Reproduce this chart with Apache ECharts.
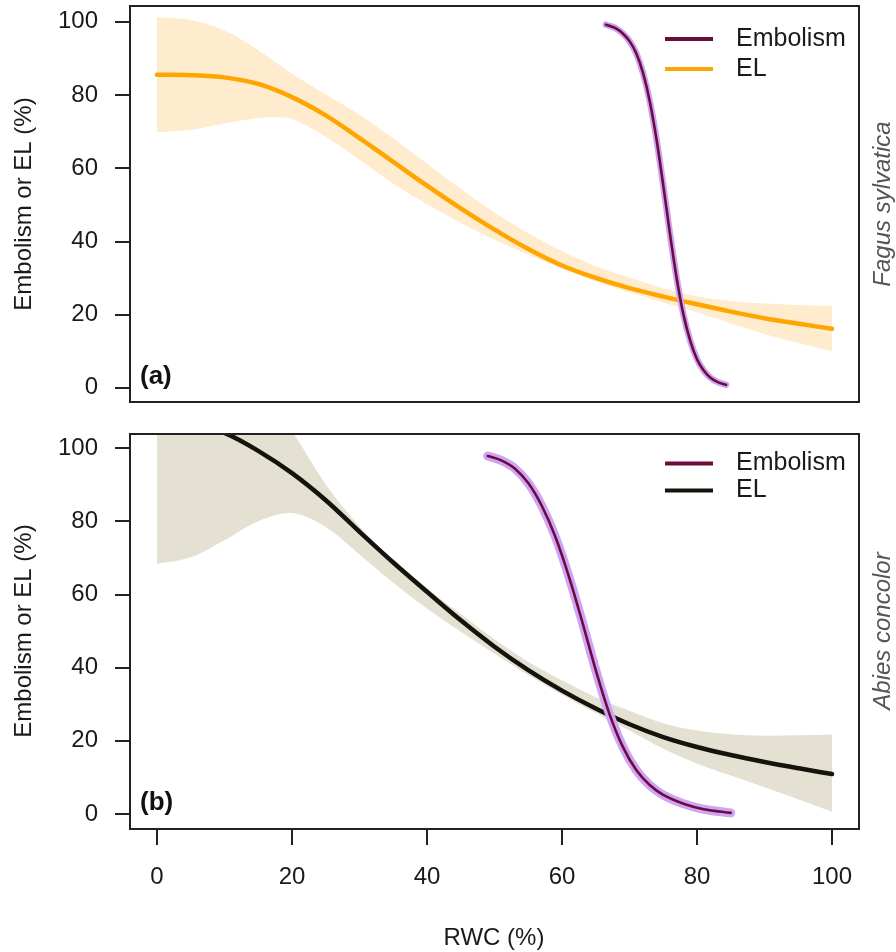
<!DOCTYPE html>
<html>
<head>
<meta charset="utf-8">
<script src="https://cdn.jsdelivr.net/npm/echarts@6/dist/echarts.min.js"></script>
<style>
  html, body { margin: 0; padding: 0; background: #fff; }
  #chart { width: 896px; height: 952px; }
</style>
</head>
<body>
<div id="chart"></div>
<script>
// ---------- data ----------
const xTicks = [0, 20, 40, 60, 80, 100];
const yTicks = [0, 20, 40, 60, 80, 100];

// Panel (a) Fagus sylvatica
const topElX = [0,5,10,15,20,25,30,35,40,45,50,55,60,65,70,75,80,85,90,95,100];
const topEl  = [85.5,85.4,84.8,83.0,79.4,74.4,68.2,61.7,55.2,49.0,43.2,37.9,33.4,30.0,27.2,24.9,22.8,20.8,19.0,17.5,16.1];
const topBandX  = [0,5,10,15,17.5,20,25,30,35,40,45,50,55,60,65,70,75,80,85,90,95,100];
const topUpper  = [101.2,100.5,97.6,92.2,89.0,85.8,80.1,74.6,68.1,61.2,54.3,47.9,42.2,37.3,33.2,30.1,27.2,25.0,23.7,23.0,22.6,22.4];
const topLower  = [69.8,70.5,72.2,73.7,73.9,73.4,68.6,62.3,55.8,50.1,45.0,40.4,36.3,32.5,29.0,26.1,23.3,20.6,17.6,14.7,12.2,9.9];
const topEmbX = [66.5,67,68,69,70,71,72,73,74,75,75.5,76,77,78,79,80,81,82,83,84.3];
const topEmb  = [99.2,98.9,98.2,96.8,94.7,91.4,86.0,78.3,67.9,55.3,48.7,42.0,29.8,19.9,12.8,7.8,4.7,2.7,1.6,0.8];

// Panel (b) Abies concolor
const botElX = [0,5,10,15,20,25,30,35,40,45,50,55,60,65,70,75,80,85,90,95,100];
const botEl  = [108.5,106.8,104.1,99.2,93.1,85.7,77.1,68.7,60.7,52.9,45.7,39.3,33.7,28.8,24.5,21.0,18.3,16.1,14.2,12.5,10.9];
const botBandX = [0,5,10,15,20,25,30,35,40,45,50,55,60,65,70,75,80,85,90,95,100];
const botUpper = [150,140,128,116,104.5,90.0,78.5,69.2,61.6,54.6,47.7,41.6,36.5,31.9,28.2,24.8,22.8,21.8,21.4,21.5,21.7];
const botLower = [68.3,70.1,74.8,80.0,82.2,78.4,70.9,63.2,56.1,49.8,43.8,38.0,32.6,27.6,22.8,17.8,13.8,10.5,7.3,4.0,0.6];
const botEmbX = [49,51,53,55,57,59,61,63,65,67,69,71,73,75,78,81,85];
const botEmb  = [97.8,96.6,94.4,90.4,84.2,75.8,65.0,52.5,39.3,27.5,18.4,12.0,7.9,5.2,2.8,1.3,0.3];

// ---------- styles ----------
const FONT = 'Liberation Sans, Arial, sans-serif';
const EMB_COLOR = '#6b0d3c';
const EMB_BAND = '#cfa3f6';
const TOP_EL = '#FFA500';
const TOP_BAND = '#FFEBCD';
const BOT_EL = '#15140c';
const BOT_BAND = '#E4E1D3';

// chord-length Catmull-Rom -> cubic Bezier segments through pixel points
function curveThrough(pts) {
  const n = pts.length;
  const L = [];
  for (let i = 0; i < n - 1; i++) {
    L.push(Math.max(1e-6, Math.hypot(pts[i + 1][0] - pts[i][0], pts[i + 1][1] - pts[i][1])));
  }
  const m = pts.map((p, i) => {
    if (i === 0) return [(pts[1][0] - p[0]) / L[0], (pts[1][1] - p[1]) / L[0]];
    if (i === n - 1) return [(p[0] - pts[i - 1][0]) / L[i - 1], (p[1] - pts[i - 1][1]) / L[i - 1]];
    const s = L[i - 1] + L[i];
    return [(pts[i + 1][0] - pts[i - 1][0]) / s, (pts[i + 1][1] - pts[i - 1][1]) / s];
  });
  let d = '';
  for (let i = 0; i < n - 1; i++) {
    const p1 = pts[i], p2 = pts[i + 1], k = L[i] / 3;
    const c1 = [p1[0] + m[i][0] * k, p1[1] + m[i][1] * k];
    const c2 = [p2[0] - m[i + 1][0] * k, p2[1] - m[i + 1][1] * k];
    d += ' C' + c1[0] + ',' + c1[1] + ' ' + c2[0] + ',' + c2[1] + ' ' + p2[0] + ',' + p2[1];
  }
  return d;
}
function clipOf(params) {
  const cs = params.coordSys;
  return { type: 'rect', shape: { x: cs.x, y: cs.y, width: cs.width, height: cs.height } };
}

function bandSeries(id, xs, lo, hi, gi, color) {
  return {
    type: 'custom', name: id, xAxisIndex: gi, yAxisIndex: gi, silent: true, clip: true, z: 1,
    data: [[xs[0], lo[0]]],
    renderItem: function (params, api) {
      const up = xs.map((x, i) => api.coord([x, hi[i]]));
      const dn = xs.map((x, i) => api.coord([x, lo[i]])).reverse();
      let d = 'M' + up[0][0] + ',' + up[0][1] + curveThrough(up);
      d += ' L' + dn[0][0] + ',' + dn[0][1] + curveThrough(dn) + ' Z';
      return { type: 'group', clipPath: clipOf(params),
        children: [{ type: 'path', shape: { pathData: d }, style: { fill: color, stroke: null } }] };
    }
  };
}
function curveSeries(name, xs, ys, gi, color, width, z, silent) {
  return {
    type: 'custom', name: name, xAxisIndex: gi, yAxisIndex: gi, clip: true, z: z, silent: !!silent,
    itemStyle: { color: color },
    data: [[xs[0], ys[0]]],
    renderItem: function (params, api) {
      const pts = xs.map((x, i) => api.coord([x, ys[i]]));
      const d = 'M' + pts[0][0] + ',' + pts[0][1] + curveThrough(pts);
      return { type: 'group', clipPath: clipOf(params),
        children: [{ type: 'path', shape: { pathData: d },
          style: { fill: null, stroke: color, lineWidth: width, lineCap: 'round', lineJoin: 'round' } }] };
    }
  };
}

const series = [
  bandSeries('topBand', topBandX, topLower, topUpper, 0, TOP_BAND),
  curveSeries('EL (a)', topElX, topEl, 0, TOP_EL, 4.5, 3),
  curveSeries('topEmbBand', topEmbX, topEmb, 0, EMB_BAND, 6.5, 4, true),
  curveSeries('Embolism (a)', topEmbX, topEmb, 0, EMB_COLOR, 2.6, 5),
  bandSeries('botBand', botBandX, botLower, botUpper, 1, BOT_BAND),
  curveSeries('EL (b)', botElX, botEl, 1, BOT_EL, 4.5, 3),
  curveSeries('botEmbBand', botEmbX, botEmb, 1, EMB_BAND, 9, 4, true),
  curveSeries('Embolism (b)', botEmbX, botEmb, 1, EMB_COLOR, 2.6, 5)
];

const gridBase = { left: 130, width: 729, show: true, borderColor: '#222', borderWidth: 2, backgroundColor: 'transparent', z: 10 };

function yAxisFor(gi, min, max) {
  return { gridIndex: gi, type: 'value', min: min, max: max,
    axisLine: { show: false, onZero: false },
    axisTick: { show: true, length: 15, customValues: yTicks, lineStyle: { color: '#222', width: 2 } },
    axisLabel: { customValues: yTicks, margin: 32, fontSize: 24, color: '#1a1a1a', fontFamily: FONT },
    splitLine: { show: false } };
}

const legendBase = { orient: 'vertical', left: 665, padding: 0, itemGap: 0, itemWidth: 48, itemHeight: 4,
  icon: 'rect', selectedMode: false,
  formatter: n => n.replace(/ \([ab]\)$/, '') };

const option = {
  animation: false,
  backgroundColor: '#fff',
  grid: [
    Object.assign({ top: 6, height: 396 }, gridBase),
    Object.assign({ top: 434, height: 395 }, gridBase)
  ],
  xAxis: [
    { gridIndex: 0, type: 'value', min: -4, max: 104,
      axisLine: { show: false, onZero: false }, axisTick: { show: false }, axisLabel: { show: false }, splitLine: { show: false } },
    { gridIndex: 1, type: 'value', min: -4, max: 104, position: 'bottom',
      axisLine: { show: false, onZero: false },
      axisTick: { show: true, length: 16, customValues: xTicks, lineStyle: { color: '#222', width: 2 } },
      axisLabel: { customValues: xTicks, margin: 36, fontSize: 24, color: '#1a1a1a', fontFamily: FONT },
      splitLine: { show: false } }
  ],
  yAxis: [ yAxisFor(0, -3.9, 104.3), yAxisFor(1, -4.1, 103.8) ],
  legend: [
    Object.assign({ data: ['Embolism (a)', 'EL (a)'], top: 24,
      textStyle: { fontSize: 25, lineHeight: 30, padding: [0, 0, 0, 18], color: '#1a1a1a', fontFamily: FONT } }, legendBase),
    Object.assign({ data: ['Embolism (b)', 'EL (b)'], top: 450,
      textStyle: { fontSize: 25, lineHeight: 27, padding: [0, 0, 0, 18], color: '#1a1a1a', fontFamily: FONT } }, legendBase)
  ],
  graphic: [
    { type: 'text', x: 24, y: 204, rotation: Math.PI / 2, z: 100,
      style: { text: 'Embolism or EL (%)', fontSize: 24, fontFamily: FONT, fill: '#1a1a1a', align: 'center', verticalAlign: 'middle' } },
    { type: 'text', x: 24, y: 631, rotation: Math.PI / 2, z: 100,
      style: { text: 'Embolism or EL (%)', fontSize: 24, fontFamily: FONT, fill: '#1a1a1a', align: 'center', verticalAlign: 'middle' } },
    { type: 'text', x: 494, y: 938, z: 100,
      style: { text: 'RWC (%)', fontSize: 24, fontFamily: FONT, fill: '#1a1a1a', align: 'center', verticalAlign: 'middle' } },
    { type: 'text', x: 883, y: 204, rotation: Math.PI / 2, z: 100,
      style: { text: 'Fagus sylvatica', fontSize: 24, fontStyle: 'italic', fontFamily: FONT, fill: '#555', align: 'center', verticalAlign: 'middle' } },
    { type: 'text', x: 883, y: 631, rotation: Math.PI / 2, z: 100,
      style: { text: 'Abies concolor', fontSize: 24, fontStyle: 'italic', fontFamily: FONT, fill: '#555', align: 'center', verticalAlign: 'middle' } },
    { type: 'text', x: 140, y: 377, z: 100,
      style: { text: '(a)', fontSize: 26, fontWeight: 'bold', fontFamily: FONT, fill: '#111', align: 'left', verticalAlign: 'middle' } },
    { type: 'text', x: 140, y: 803, z: 100,
      style: { text: '(b)', fontSize: 26, fontWeight: 'bold', fontFamily: FONT, fill: '#111', align: 'left', verticalAlign: 'middle' } }
  ],
  series: series
};

const chart = echarts.init(document.getElementById('chart'), null, { renderer: 'canvas' });
chart.setOption(option);
</script>
</body>
</html>
